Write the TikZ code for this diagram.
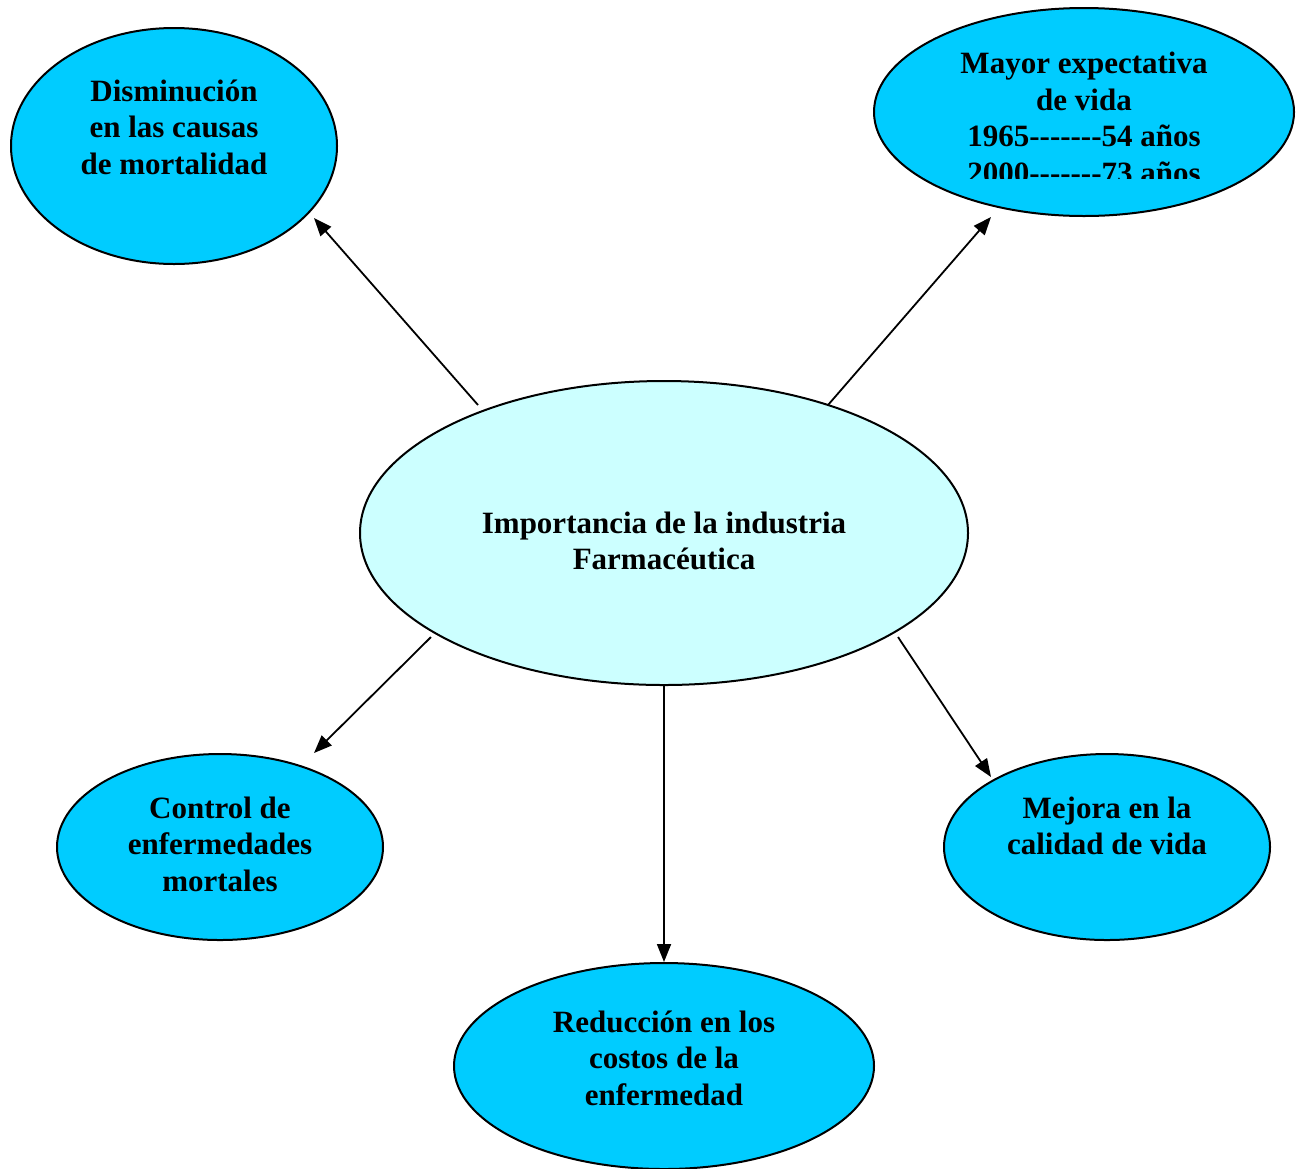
\documentclass[tikz,border=0pt]{standalone}
\usepackage{fontspec}
\setmainfont{Liberation Serif}[Ligatures=TeXOff]
\usetikzlibrary{shapes.geometric,arrows.meta}
\definecolor{outerfill}{HTML}{00CCFF}
\definecolor{innerfill}{HTML}{CCFFFF}
\tikzset{
  bubble/.style={ellipse, draw=black, line width=1pt, inner sep=0pt},
  outerbubble/.style={bubble, fill=outerfill},
  innerbubble/.style={bubble, fill=innerfill},
  caption/.style={font=\fontsize{15.5}{18.3}\selectfont\bfseries, align=center, inner sep=0pt},
  link/.style={line width=0.9pt, -{Triangle[length=9pt,width=7pt]}}
}
\begin{document}
\begin{tikzpicture}[x=0.5pt,y=-0.5pt]
\useasboundingbox[fill=white] (0,0) rectangle (1304,1168);

% bubbles
\node[outerbubble, minimum width=326pt*0.5, minimum height=236pt*0.5] (tl) at (174,146) {};
\node[outerbubble, minimum width=420pt*0.5, minimum height=208pt*0.5] (tr) at (1084,112) {};
\node[innerbubble, minimum width=608pt*0.5, minimum height=304pt*0.5] (c) at (664,533) {};
\node[outerbubble, minimum width=326pt*0.5, minimum height=186pt*0.5] (bl) at (220,847) {};
\node[outerbubble, minimum width=326pt*0.5, minimum height=186pt*0.5] (br) at (1107,847) {};
\node[outerbubble, minimum width=420pt*0.5, minimum height=206pt*0.5] (bot) at (664,1066) {};

% captions
\node[caption] (tltext) at (174,127) {Disminución\\en las causas\\de mortalidad};
\begin{scope}
  \clip (874,20) rectangle (1295,178);
  \node[caption] (trtext) at (1084,118) {Mayor expectativa\\de vida\\1965-------54 años\\2000-------73 años};
\end{scope}
\node[caption] (ctext) at (664,541) {Importancia de la industria\\Farmacéutica};
\node[caption] (bltext) at (220,844) {Control de\\enfermedades\\mortales};
\node[caption] (brtext) at (1107,826) {Mejora en la\\calidad de vida};
\node[caption] (bottext) at (664,1058) {Reducción en los\\costos de la\\enfermedad};

% connector end points
\coordinate (tlstart) at (478,405);
\coordinate (tlend) at (314,218);
\coordinate (trstart) at (828,405);
\coordinate (trend) at (991,217);
\coordinate (blstart) at (431,637);
\coordinate (blend) at (314,753);
\coordinate (brstart) at (898,637);
\coordinate (brend) at (991,777);

% connectors
\draw[link] (tlstart) -- (tlend);
\draw[link] (trstart) -- (trend);
\draw[link] (blstart) -- (blend);
\draw[link] (brstart) -- (brend);
\draw[link] (c.south) -- (bot.north);
\end{tikzpicture}
\end{document}
